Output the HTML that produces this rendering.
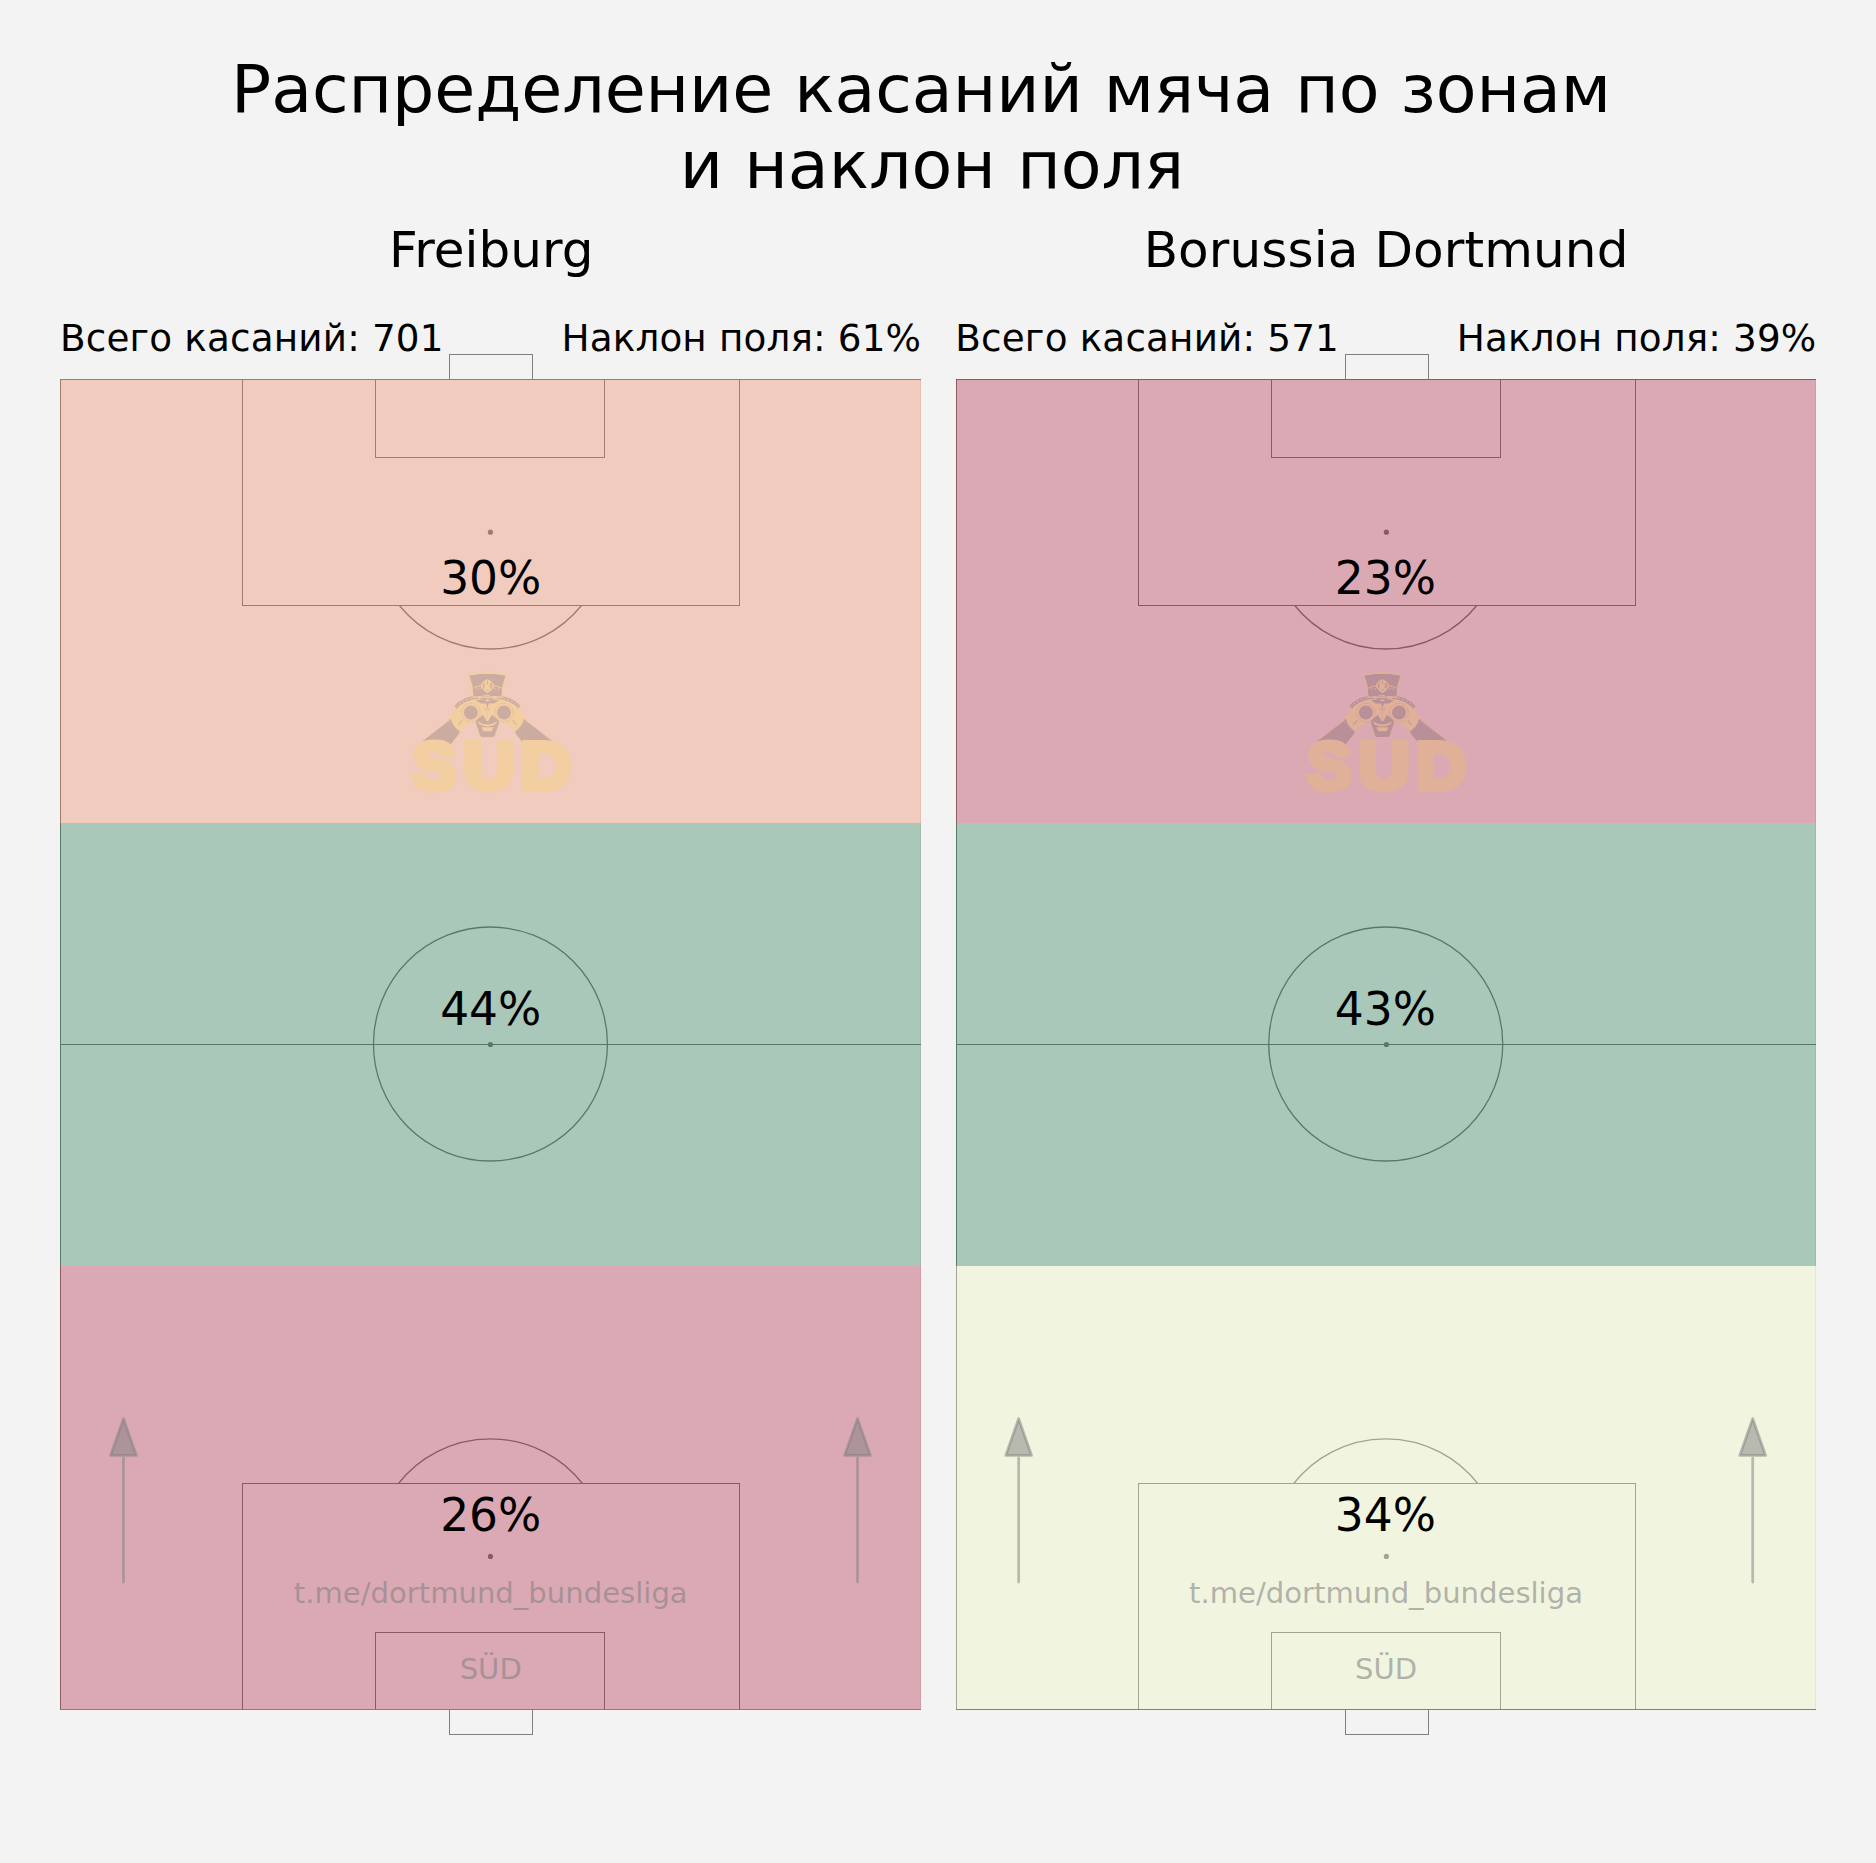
<!DOCTYPE html>
<html lang="ru"><head><meta charset="utf-8"><title>Распределение касаний мяча по зонам и наклон поля</title>
<style>
html,body{margin:0;padding:0;background:#f3f3f3;}
body{width:1876px;height:1863px;overflow:hidden;}
svg{display:block;font-family:"DejaVu Sans","Liberation Sans",sans-serif;}
</style></head><body>
<svg width="1876" height="1863" viewBox="0 0 1876 1863">
<rect width="1876" height="1863" fill="#f3f3f3"/>
<text x="921.1" y="112" font-size="66.67" text-anchor="middle" textLength="1380" lengthAdjust="spacing">Распределение касаний мяча по зонам</text>
<text x="932" y="187.8" font-size="66.67" text-anchor="middle">и наклон поля</text>
<g id="pitch0">
<g stroke="#808080" stroke-width="1" fill="none" shape-rendering="crispEdges">
<path d="M60.5 379 V1710"/>
<path d="M920.5 379 V1709" stroke-opacity="0.15"/>
<path d="M60 379.5 H921"/>
<path d="M60 1709.5 H921"/>
<path d="M60 1044.5 H921"/>
<path d="M242.5 379 V605.5 H739.5 V379"/>
<path d="M242.5 1710 V1483.5 H739.5 V1710"/>
<path d="M375.5 379 V457.5 H604.5 V379"/>
<path d="M375.5 1710 V1632.5 H604.5 V1710"/>
<path d="M449.5 379 V354.5 H532.5 V379"/>
<path d="M449.5 1710 V1734.5 H532.5 V1710"/>
</g>
<g stroke="#808080" stroke-width="1.3" fill="none">
<circle cx="490.45" cy="1044.0" r="117.0"/>
<path d="M399.42 605.5 A117.0 117.0 0 0 0 581.48 605.5"/>
<path d="M398.46 1483.5 A117.0 117.0 0 0 1 582.44 1483.5"/>
</g>
<g fill="#808080">
<circle cx="490.45" cy="532.2" r="2.6"/>
<circle cx="490.45" cy="1044.5" r="2.6"/>
<circle cx="490.45" cy="1556.4" r="2.6"/>
</g>
<rect x="60" y="379" width="861" height="444" fill="#f07046" fill-opacity="0.3"/>
<rect x="60" y="823" width="861" height="443" fill="#006837" fill-opacity="0.3"/>
<rect x="60" y="1266" width="861" height="443" fill="#a50026" fill-opacity="0.3"/>
<g opacity="0.15" transform="translate(0.0,0)">
<path d="M421.5 741.6 L448.6 720.6 L452.5 726.0 L459.9 733.2 L452.5 742.5 L450.4 745.0 Z" fill="#000" stroke="#fde100" stroke-width="0.8"/>
<path d="M553.4 741.6 L526.3 720.6 L522.4 726.0 L515.0 733.2 L522.4 742.5 L524.5 745.0 Z" fill="#000" stroke="#fde100" stroke-width="0.8"/>
<path d="M487.4 698.6 L480.0 698.2 L473.0 698.2 L466.0 700.6 L457.8 705.4 L453.6 711.0 L449.9 718.0 L449.6 721.5 L451.8 725.5 L455.5 729.0 L458.6 731.6 L460.6 731.0 L466.0 726.0 L472.8 721.2 L476.5 722.0 L481.0 727.0 L483.5 731.5 L487.4 731.5 L487.4 731.5 L491.4 731.5 L493.9 727.0 L498.4 722.0 L502.1 721.2 L508.9 726.0 L514.3 731.0 L516.3 731.6 L519.4 729.0 L523.1 725.5 L525.3 721.5 L525.0 718.0 L521.3 711.0 L517.1 705.4 L508.9 700.6 L501.9 698.2 L494.9 698.2 L487.4 698.6 Z" fill="#fde100"/>
<path d="M455.6 707.6 L458.6 704 L466 699.8 L473 697.6 H501.9 L508.9 699.8 L516.3 704 L519.3 707.6" fill="none" stroke="#000" stroke-width="3.4" stroke-linejoin="round"/>
<path d="M455.6 707.6 L458.6 704 L466 699.8 L473 697.6 H501.9 L508.9 699.8 L516.3 704 L519.3 707.6" fill="none" stroke="#fde100" stroke-width="0.9" stroke-dasharray="2.6 1.6"/>
<path d="M476 700.4 L487.45 698.4 L498.9 700.4 L494 703.5 H480.9 Z" fill="#000"/>
<path d="M484.5 700.6 L487.45 698.9 L490.4 700.6 L487.45 701.6 Z" fill="#fde100"/>
<path d="M449.9 719.5 Q451.5 727 459.3 732.4" fill="none" stroke="#000" stroke-width="2.2"/>
<path d="M525.0 719.5 Q523.4 727 515.5999999999999 732.4" fill="none" stroke="#000" stroke-width="2.2"/>
<circle cx="470.9" cy="712.6" r="7" fill="#000"/>
<circle cx="470.9" cy="712.6" r="9.2" fill="none" stroke="#000" stroke-width="0.7" stroke-dasharray="1.2 1.2"/>
<circle cx="504.0" cy="712.6" r="7" fill="#000"/>
<circle cx="504.0" cy="712.6" r="9.2" fill="none" stroke="#000" stroke-width="0.7" stroke-dasharray="1.2 1.2"/>
<path d="M458 724.5 Q461 723.5 462 720" fill="none" stroke="#000" stroke-width="0.9"/>
<path d="M516.9 724.5 Q513.9 723.5 512.9 720" fill="none" stroke="#000" stroke-width="0.9"/>
<path d="M474.9 721.3 L500.0 721.3 L495.2 735.6 L493.2 737.6 L481.7 737.6 L479.7 735.6 Z" fill="#000" stroke="#fde100" stroke-width="0.9"/>
<path d="M476 720.5 L482.6 715 L484.4 717 L487.45 723 L490.5 717 L492.3 715 L498.9 720.5 L498 722.5 H476.9 Z" fill="#000"/>
<path d="M477.8 721.6 Q487.45 727.5 497.1 721.6 Q495.5 726.3 487.45 726.6 Q479.4 726.3 477.8 721.6 Z" fill="#fde100"/>
<path d="M481.2 727.2 H493.7 L491.4 731.2 H483.5 Z" fill="#fde100"/>
<path d="M487.45 704 V722" stroke="#000" stroke-width="1" fill="none"/>
<circle cx="487.45" cy="703.9" r="1.4" fill="#000"/>
<path d="M484.8 708 L487.45 711 L490.1 708" stroke="#000" stroke-width="0.8" fill="none"/>
<path d="M487.45 708 V721" stroke="#fde100" stroke-width="0.9" fill="none"/>
<path d="M468.6 675.2 L480.0 673.4 L494.9 673.4 L506.3 675.2 L503.0 685.4 L502.0 697.2 L472.9 697.2 L471.9 685.4 Z" fill="#000" stroke="#fde100" stroke-width="1.2" stroke-linejoin="round"/>
<path d="M480.2 672.4 H494.7" stroke="#fde100" stroke-width="1" fill="none"/>
<path d="M487.45 679 L491 681 L493.8 684 L493.8 687.5 L491 690.5 L487.45 693.2 L483.9 690.5 L481.1 687.5 L481.1 684 L483.9 681 Z" fill="#fde100"/>
<path d="M481 686 L477.5 686.4 L473.4 688.2 M493.9 686 L497.4 686.4 L501.5 688.2" stroke="#fde100" stroke-width="1" fill="none"/>
<path d="M481 688.8 L477 689 L474 690 M493.9 688.8 L497.9 689 L500.9 690" stroke="#fde100" stroke-width="0.8" fill="none" stroke-dasharray="2 1.5"/>
<path d="M483.3 683.3 V688 M485 683.3 H483.3 M485 685.6 H483.3 M485 688 H483.3 M490.2 683.3 V688 H491.9 V683.3 Z M490.2 685.6 H491.9 M487.45 680.5 V684.5 M486 690 H489" stroke="#000" stroke-width="0.8" fill="none"/>
<path d="M483.5 695.4 H490 M478.2 696.5 H481.4 M492.4 696.5 H497.5 M483.3 697.6 H491.6 M478.2 698.7 H481.4 M492.4 698.7 H497.5" stroke="#fde100" stroke-width="0.9" fill="none"/>
<text y="789.3" font-family="&quot;Liberation Sans&quot;,sans-serif" font-weight="bold" font-size="66.5" fill="#fde100" stroke="#fde100" stroke-width="6.0" stroke-linejoin="miter"><tspan x="412.3" textLength="44.0" lengthAdjust="spacingAndGlyphs">S</tspan><tspan x="463.2" textLength="51.4" lengthAdjust="spacingAndGlyphs">U</tspan><tspan x="520.7" textLength="50.4" lengthAdjust="spacingAndGlyphs">D</tspan></text>
</g>
<g fill="#808080" fill-opacity="0.5" stroke="#808080" stroke-opacity="0.5" stroke-width="2.78"><path d="M123.45 1582.1 V1458.2" fill="none" stroke-linecap="round"/><path d="M123.45 1418.6 L136.35 1455.4 H110.55 Z" stroke-linejoin="round"/></g>
<g fill="#808080" fill-opacity="0.5" stroke="#808080" stroke-opacity="0.5" stroke-width="2.78"><path d="M857.5 1582.1 V1458.2" fill="none" stroke-linecap="round"/><path d="M857.5 1418.6 L870.4 1455.4 H844.6 Z" stroke-linejoin="round"/></g>
<text x="491.25" y="267" font-size="50" text-anchor="middle" textLength="204.6" lengthAdjust="spacing">Freiburg</text>
<text x="60" y="351" font-size="37.3" textLength="383.5" lengthAdjust="spacing">Всего касаний: 701</text>
<text x="921" y="351" font-size="37.3" text-anchor="end" textLength="359.5" lengthAdjust="spacing">Наклон поля: 61%</text>
<text x="490.75" y="594.4" font-size="45.5" text-anchor="middle">30%</text>
<text x="490.75" y="1025.4" font-size="45.5" text-anchor="middle">44%</text>
<text x="490.75" y="1531.4" font-size="45.5" text-anchor="middle">26%</text>
<text x="490.75" y="1603" font-size="29.1" text-anchor="middle" fill="#808080" fill-opacity="0.58">t.me/dortmund_bundesliga</text>
<text x="490.75" y="1679" font-size="29.1" text-anchor="middle" fill="#808080" fill-opacity="0.58">SÜD</text>
</g>
<g id="pitch896">
<g stroke="#808080" stroke-width="1" fill="none" shape-rendering="crispEdges">
<path d="M956.5 379 V1710"/>
<path d="M1815.5 379 V1709" stroke-opacity="0.15"/>
<path d="M956 379.5 H1816"/>
<path d="M956 1709.5 H1816"/>
<path d="M956 1044.5 H1816"/>
<path d="M1138.5 379 V605.5 H1635.5 V379"/>
<path d="M1138.5 1710 V1483.5 H1635.5 V1710"/>
<path d="M1271.5 379 V457.5 H1500.5 V379"/>
<path d="M1271.5 1710 V1632.5 H1500.5 V1710"/>
<path d="M1345.5 379 V354.5 H1428.5 V379"/>
<path d="M1345.5 1710 V1734.5 H1428.5 V1710"/>
</g>
<g stroke="#808080" stroke-width="1.3" fill="none">
<circle cx="1385.75" cy="1044.0" r="117.0"/>
<path d="M1294.72 605.5 A117.0 117.0 0 0 0 1476.78 605.5"/>
<path d="M1293.76 1483.5 A117.0 117.0 0 0 1 1477.74 1483.5"/>
</g>
<g fill="#808080">
<circle cx="1386.4" cy="532.2" r="2.6"/>
<circle cx="1386.4" cy="1044.5" r="2.6"/>
<circle cx="1386.4" cy="1556.4" r="2.6"/>
</g>
<rect x="956" y="379" width="860" height="444" fill="#a50026" fill-opacity="0.3"/>
<rect x="956" y="823" width="860" height="443" fill="#006837" fill-opacity="0.3"/>
<rect x="956" y="1266" width="860" height="443" fill="#f0fab2" fill-opacity="0.3"/>
<g opacity="0.15" transform="translate(895.0,0)">
<path d="M421.5 741.6 L448.6 720.6 L452.5 726.0 L459.9 733.2 L452.5 742.5 L450.4 745.0 Z" fill="#000" stroke="#fde100" stroke-width="0.8"/>
<path d="M553.4 741.6 L526.3 720.6 L522.4 726.0 L515.0 733.2 L522.4 742.5 L524.5 745.0 Z" fill="#000" stroke="#fde100" stroke-width="0.8"/>
<path d="M487.4 698.6 L480.0 698.2 L473.0 698.2 L466.0 700.6 L457.8 705.4 L453.6 711.0 L449.9 718.0 L449.6 721.5 L451.8 725.5 L455.5 729.0 L458.6 731.6 L460.6 731.0 L466.0 726.0 L472.8 721.2 L476.5 722.0 L481.0 727.0 L483.5 731.5 L487.4 731.5 L487.4 731.5 L491.4 731.5 L493.9 727.0 L498.4 722.0 L502.1 721.2 L508.9 726.0 L514.3 731.0 L516.3 731.6 L519.4 729.0 L523.1 725.5 L525.3 721.5 L525.0 718.0 L521.3 711.0 L517.1 705.4 L508.9 700.6 L501.9 698.2 L494.9 698.2 L487.4 698.6 Z" fill="#fde100"/>
<path d="M455.6 707.6 L458.6 704 L466 699.8 L473 697.6 H501.9 L508.9 699.8 L516.3 704 L519.3 707.6" fill="none" stroke="#000" stroke-width="3.4" stroke-linejoin="round"/>
<path d="M455.6 707.6 L458.6 704 L466 699.8 L473 697.6 H501.9 L508.9 699.8 L516.3 704 L519.3 707.6" fill="none" stroke="#fde100" stroke-width="0.9" stroke-dasharray="2.6 1.6"/>
<path d="M476 700.4 L487.45 698.4 L498.9 700.4 L494 703.5 H480.9 Z" fill="#000"/>
<path d="M484.5 700.6 L487.45 698.9 L490.4 700.6 L487.45 701.6 Z" fill="#fde100"/>
<path d="M449.9 719.5 Q451.5 727 459.3 732.4" fill="none" stroke="#000" stroke-width="2.2"/>
<path d="M525.0 719.5 Q523.4 727 515.5999999999999 732.4" fill="none" stroke="#000" stroke-width="2.2"/>
<circle cx="470.9" cy="712.6" r="7" fill="#000"/>
<circle cx="470.9" cy="712.6" r="9.2" fill="none" stroke="#000" stroke-width="0.7" stroke-dasharray="1.2 1.2"/>
<circle cx="504.0" cy="712.6" r="7" fill="#000"/>
<circle cx="504.0" cy="712.6" r="9.2" fill="none" stroke="#000" stroke-width="0.7" stroke-dasharray="1.2 1.2"/>
<path d="M458 724.5 Q461 723.5 462 720" fill="none" stroke="#000" stroke-width="0.9"/>
<path d="M516.9 724.5 Q513.9 723.5 512.9 720" fill="none" stroke="#000" stroke-width="0.9"/>
<path d="M474.9 721.3 L500.0 721.3 L495.2 735.6 L493.2 737.6 L481.7 737.6 L479.7 735.6 Z" fill="#000" stroke="#fde100" stroke-width="0.9"/>
<path d="M476 720.5 L482.6 715 L484.4 717 L487.45 723 L490.5 717 L492.3 715 L498.9 720.5 L498 722.5 H476.9 Z" fill="#000"/>
<path d="M477.8 721.6 Q487.45 727.5 497.1 721.6 Q495.5 726.3 487.45 726.6 Q479.4 726.3 477.8 721.6 Z" fill="#fde100"/>
<path d="M481.2 727.2 H493.7 L491.4 731.2 H483.5 Z" fill="#fde100"/>
<path d="M487.45 704 V722" stroke="#000" stroke-width="1" fill="none"/>
<circle cx="487.45" cy="703.9" r="1.4" fill="#000"/>
<path d="M484.8 708 L487.45 711 L490.1 708" stroke="#000" stroke-width="0.8" fill="none"/>
<path d="M487.45 708 V721" stroke="#fde100" stroke-width="0.9" fill="none"/>
<path d="M468.6 675.2 L480.0 673.4 L494.9 673.4 L506.3 675.2 L503.0 685.4 L502.0 697.2 L472.9 697.2 L471.9 685.4 Z" fill="#000" stroke="#fde100" stroke-width="1.2" stroke-linejoin="round"/>
<path d="M480.2 672.4 H494.7" stroke="#fde100" stroke-width="1" fill="none"/>
<path d="M487.45 679 L491 681 L493.8 684 L493.8 687.5 L491 690.5 L487.45 693.2 L483.9 690.5 L481.1 687.5 L481.1 684 L483.9 681 Z" fill="#fde100"/>
<path d="M481 686 L477.5 686.4 L473.4 688.2 M493.9 686 L497.4 686.4 L501.5 688.2" stroke="#fde100" stroke-width="1" fill="none"/>
<path d="M481 688.8 L477 689 L474 690 M493.9 688.8 L497.9 689 L500.9 690" stroke="#fde100" stroke-width="0.8" fill="none" stroke-dasharray="2 1.5"/>
<path d="M483.3 683.3 V688 M485 683.3 H483.3 M485 685.6 H483.3 M485 688 H483.3 M490.2 683.3 V688 H491.9 V683.3 Z M490.2 685.6 H491.9 M487.45 680.5 V684.5 M486 690 H489" stroke="#000" stroke-width="0.8" fill="none"/>
<path d="M483.5 695.4 H490 M478.2 696.5 H481.4 M492.4 696.5 H497.5 M483.3 697.6 H491.6 M478.2 698.7 H481.4 M492.4 698.7 H497.5" stroke="#fde100" stroke-width="0.9" fill="none"/>
<text y="789.3" font-family="&quot;Liberation Sans&quot;,sans-serif" font-weight="bold" font-size="66.5" fill="#fde100" stroke="#fde100" stroke-width="6.0" stroke-linejoin="miter"><tspan x="412.3" textLength="44.0" lengthAdjust="spacingAndGlyphs">S</tspan><tspan x="463.2" textLength="51.4" lengthAdjust="spacingAndGlyphs">U</tspan><tspan x="520.7" textLength="50.4" lengthAdjust="spacingAndGlyphs">D</tspan></text>
</g>
<g fill="#808080" fill-opacity="0.5" stroke="#808080" stroke-opacity="0.5" stroke-width="2.78"><path d="M1018.6500000000001 1582.1 V1458.2" fill="none" stroke-linecap="round"/><path d="M1018.6500000000001 1418.6 L1031.5500000000002 1455.4 H1005.7500000000001 Z" stroke-linejoin="round"/></g>
<g fill="#808080" fill-opacity="0.5" stroke="#808080" stroke-opacity="0.5" stroke-width="2.78"><path d="M1752.7 1582.1 V1458.2" fill="none" stroke-linecap="round"/><path d="M1752.7 1418.6 L1765.6000000000001 1455.4 H1739.8 Z" stroke-linejoin="round"/></g>
<text x="1386.05" y="267" font-size="50" text-anchor="middle" textLength="484.75" lengthAdjust="spacing">Borussia Dortmund</text>
<text x="955.3" y="351" font-size="37.3" textLength="383.5" lengthAdjust="spacing">Всего касаний: 571</text>
<text x="1816.3" y="351" font-size="37.3" text-anchor="end" textLength="359.5" lengthAdjust="spacing">Наклон поля: 39%</text>
<text x="1385.35" y="594.4" font-size="45.5" text-anchor="middle">23%</text>
<text x="1385.35" y="1025.4" font-size="45.5" text-anchor="middle">43%</text>
<text x="1385.35" y="1531.4" font-size="45.5" text-anchor="middle">34%</text>
<text x="1386.05" y="1603" font-size="29.1" text-anchor="middle" fill="#808080" fill-opacity="0.58">t.me/dortmund_bundesliga</text>
<text x="1386.05" y="1679" font-size="29.1" text-anchor="middle" fill="#808080" fill-opacity="0.58">SÜD</text>
</g>
</svg>
</body></html>
